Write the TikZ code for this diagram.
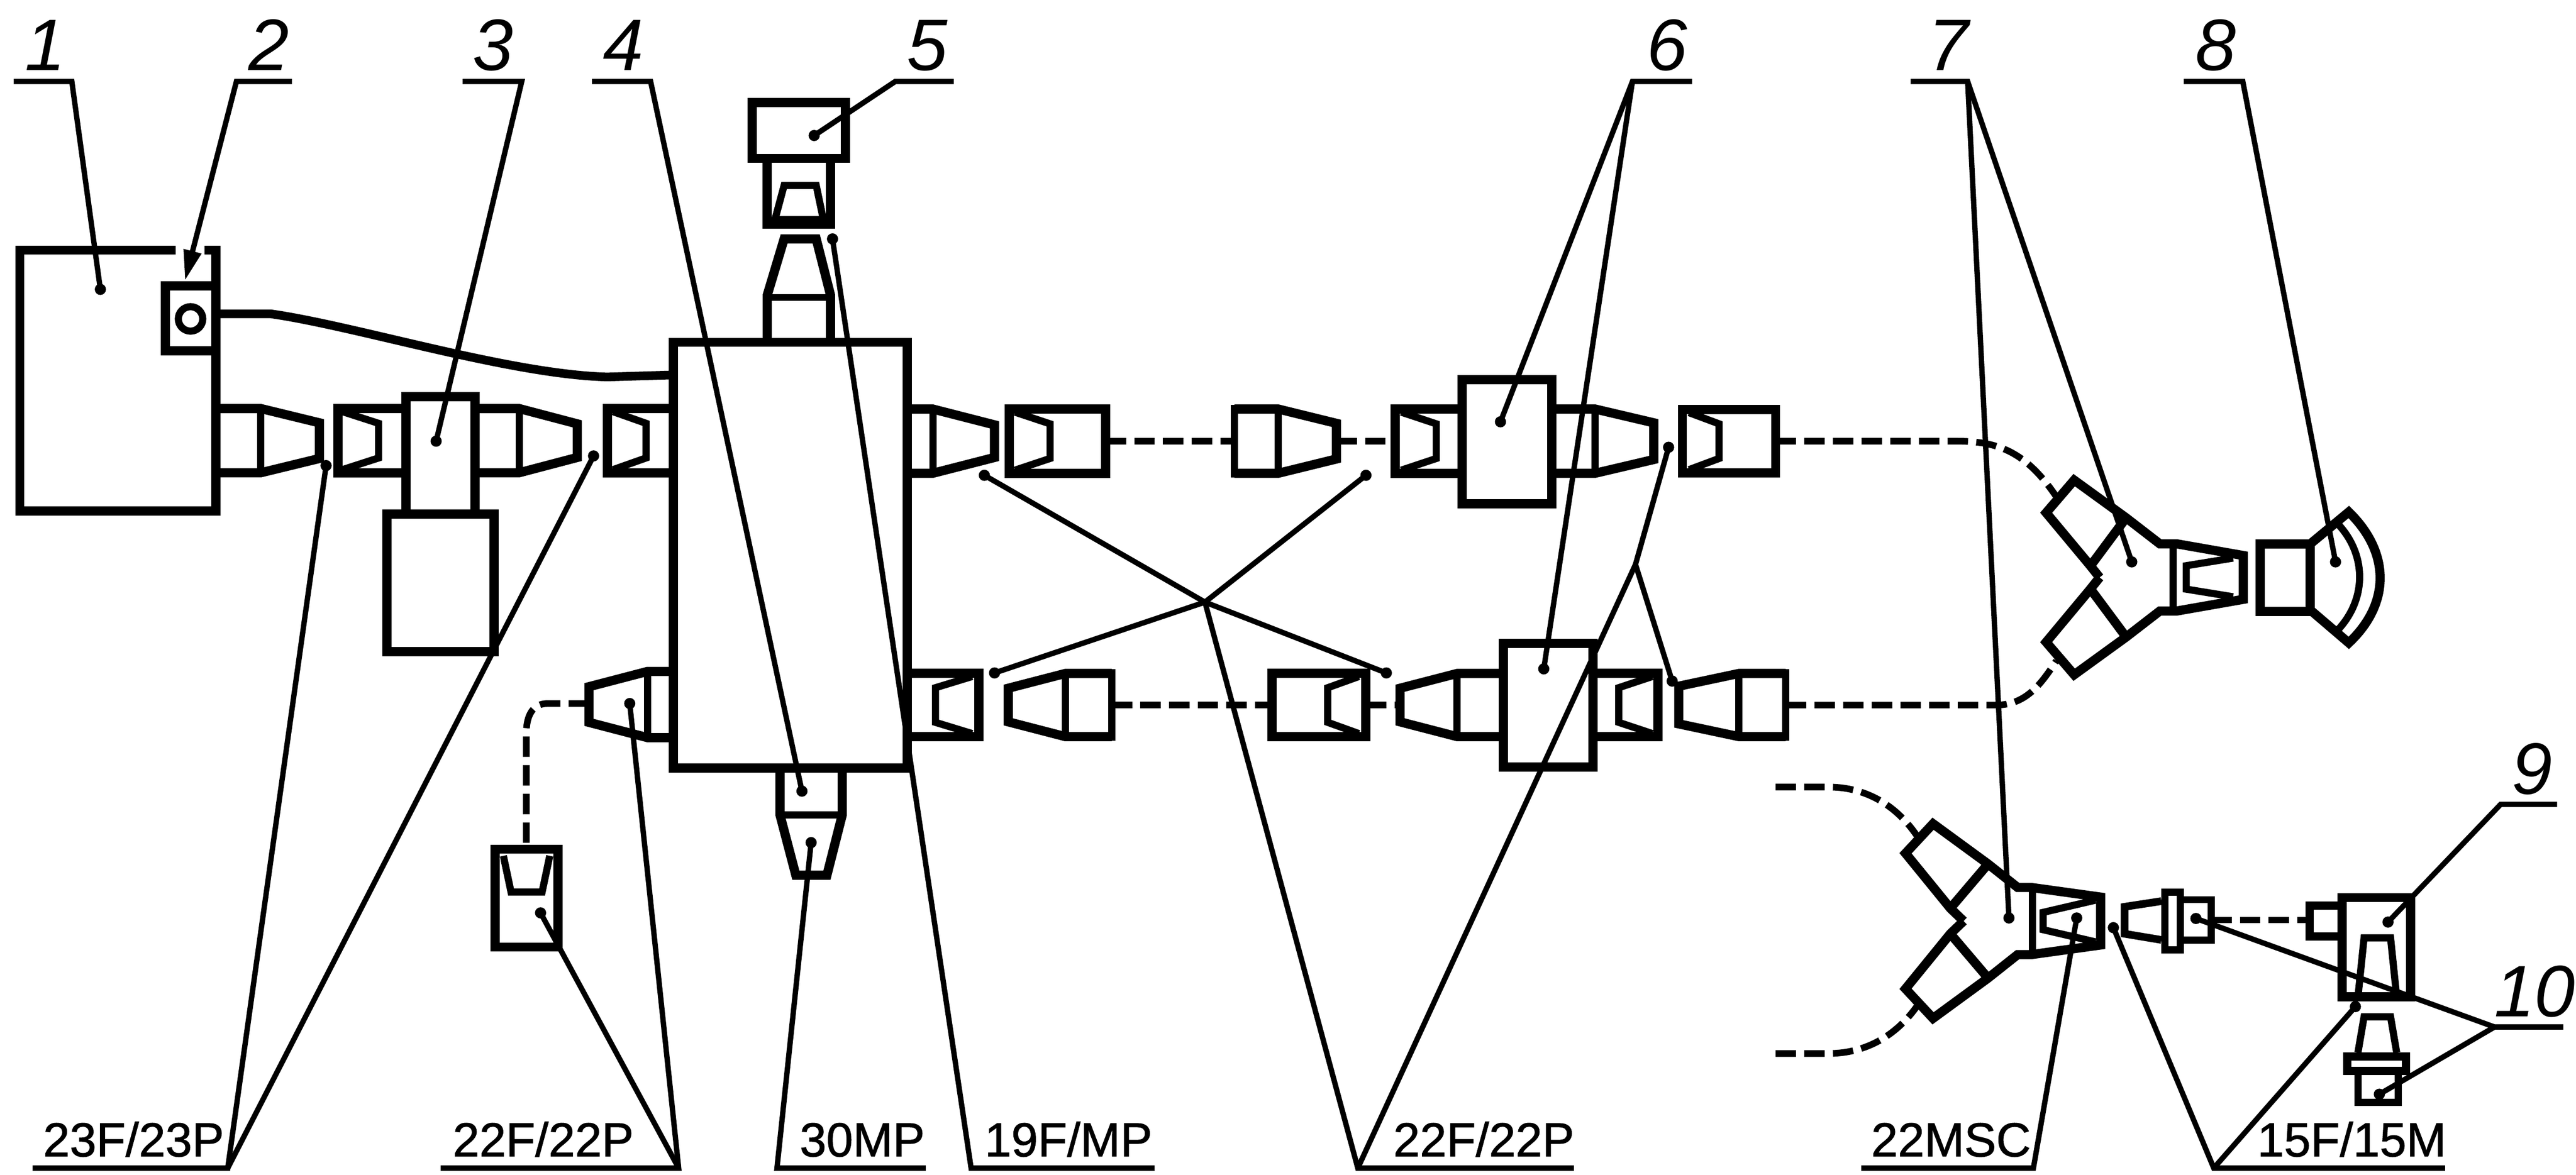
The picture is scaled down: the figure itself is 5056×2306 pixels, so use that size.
\documentclass[tikz,border=0pt]{standalone}
\usepackage{fontspec}
\setmainfont{Liberation Sans}
\newfontfamily\typefont[FakeBold=1.2]{Liberation Sans}
\usetikzlibrary{arrows.meta}
\tikzset{
  part/.style={draw=black,line width=0.18cm,line cap=butt,line join=miter,miter limit=4},
  fine/.style={draw=black,line width=0.14cm,line join=miter},
  leader/.style={draw=black,line width=0.105cm,line join=miter},
  cableb/.style={draw=black,line width=0.13cm,dash pattern=on 11.4pt off 4.6pt},
  numlab/.style={inner sep=0pt,anchor=base,font=\fontsize{40.7}{48}\selectfont\itshape},
  typelab/.style={inner sep=0pt,anchor=base west,font=\typefont\fontsize{26.7}{32}\selectfont}
}
% plug: base x, bend x, end x, centre y, half height, half height of the tip
\newcommand{\plugR}[6]{%
  \draw[part] (#1,{#4-#5}) -- (#2,{#4-#5}) -- (#3,{#4-#6}) -- (#3,{#4+#6}) -- (#2,{#4+#5}) -- (#1,{#4+#5});
  \draw[fine] (#2,{#4-#5}) -- (#2,{#4+#5});}
% free plug: the same, with a closed back
\newcommand{\plugF}[6]{\plugR{#1}{#2}{#3}{#4}{#5}{#6}\draw[fine] (#1,{#4-#5-8}) -- (#1,{#4+#5+8});}
% socket: mouth x, back x, inner mouth x, inner neck x, centre y, half height
\newcommand{\sockR}[6]{%
  \draw[part] (#1,{#5-#6}) rectangle (#2,{#5+#6});
  \draw[fine] (#3,{#5-#6+6}) -- (#4,{#5-34}) -- (#4,{#5+34}) -- (#3,{#5+#6-6});}
\begin{document}
\begin{tikzpicture}[x=0.01cm,y=-0.01cm]
\useasboundingbox[fill=white] (0,0) rectangle (5056,2306);

% item 1 and 2
\draw[part] (345,491) -- (39,491) -- (39,1003) -- (424,1003) -- (424,491) -- (401,491);
\draw[part] (325,561) rectangle (424,689);
\draw[fine] (374,626) circle[radius=24];
\draw[part,line width=0.17cm] (424,616) -- (531,616) .. controls (700,640) and (1000,735) .. (1192,740) -- (1322,736);

% row 1
\plugR{424}{512}{627}{865}{63}{35}
\sockR{663}{797}{672}{743}{865}{63}
\draw[part] (797,1009) -- (797,779) -- (932,779) -- (932,1009);
\draw[part] (759,1009) rectangle (970,1279);
\plugR{932}{1019}{1133}{865}{63}{33}
\sockR{1192}{1322}{1203}{1268}{865}{63}
\draw[part] (1322,672) rectangle (1781,1508);
\plugR{1781}{1831}{1952}{866}{63}{32}
\sockR{1981}{2170}{1992}{2061}{866}{63}
\draw[cableb] (2170,866) -- (2423,866);
\plugF{2423}{2509}{2623}{866}{63}{35}
\draw[cableb] (2623,866) -- (2738,866);
\sockR{2738}{2870}{2750}{2819}{866}{63}
\draw[part] (2870,745) rectangle (3046,989);
\plugR{3046}{3131}{3246}{866}{63}{36}
\sockR{3302}{3485}{3315}{3374}{866}{62}
\draw[cableb] (3485,866) -- (3839,866) .. controls (3920,866) and (3975,885) .. (4036,975);

% row 2
\plugR{1322}{1271}{1156}{1383}{65}{35}
\draw[cableb] (1156,1381) -- (1075,1381) .. controls (1045,1381) and (1033,1405) .. (1033,1440) -- (1033,1667);
\sockR{1921}{1781}{1908}{1836}{1384}{62}
\plugF{2182}{2091}{1979}{1384}{62}{33}
\draw[cableb] (2182,1384) -- (2497,1384);
\sockR{2681}{2497}{2667}{2606}{1384}{62}
\draw[cableb] (2681,1384) -- (2748,1384);
\plugR{2951}{2860}{2748}{1384}{62}{33}
\draw[part] (2951,1263) rectangle (3127,1506);
\sockR{3254}{3127}{3243}{3177}{1384}{62}
\plugF{3505}{3413}{3295}{1384}{62}{37}
\draw[cableb] (3505,1384) -- (3918,1384) .. controls (3975,1384) and (4005,1345) .. (4036,1297);

% devices above and below the main box
\draw[part] (1476,201) rectangle (1659,311);
\draw[part] (1506,311) rectangle (1630,440);
\draw[fine] (1521,431) -- (1539,364) -- (1602,364) -- (1616,431) -- cycle;
\draw[part] (1506,672) -- (1506,579) -- (1539,469) -- (1602,469) -- (1630,579) -- (1630,672);
\draw[fine] (1506,584) -- (1630,584);
\draw[part] (1531,1508) -- (1531,1600) -- (1562,1718) -- (1623,1718) -- (1653,1600) -- (1653,1508);
\draw[fine] (1531,1600) -- (1653,1600);
\draw[part] (972,1667) rectangle (1095,1859);
\draw[fine] (988,1680) -- (1003,1751) -- (1064,1751) -- (1079,1680);

% splitters
\foreach \sgn in {1,-1}{
  \begin{scope}[shift={(0,1133.5)},yscale=\sgn]
    \draw[part] (4121,0) -- (4101,-25) -- (4016,-127) -- (4071,-191) -- (4173,-117) -- (4239,-66) -- (4272,-66) -- (4403,-43) -- (4403,0);
    \draw[part] (4173,-117) -- (4101,-20);
    \draw[fine] (4265,-66) -- (4265,0);
    \draw[fine] (4383,-38) -- (4291,-23) -- (4291,0);
  \end{scope}
  \begin{scope}[shift={(0,1808)},yscale=\sgn]
    \draw[part] (3854,0) -- (3828,-25) -- (3740,-133) -- (3794,-191) -- (3902,-112) -- (3960,-66) -- (3986,-66) -- (4123,-47) -- (4123,0);
    \draw[part] (3902,-112) -- (3828,-25);
    \draw[fine] (3989,-66) -- (3989,0);
    \draw[fine] (4113,-41) -- (4010,-17) -- (4010,0);
  \end{scope}
}
\draw[cableb] (3485,1545) -- (3589,1545) .. controls (3650,1545) and (3715,1570) .. (3764,1643);
\draw[cableb] (3485,2068) -- (3589,2068) .. controls (3650,2068) and (3715,2043) .. (3764,1973);

% item 8
\draw[part] (4436,1068) rectangle (4534,1200);
\draw[part] (4534,1068) -- (4610,1005) .. controls (4692,1085) and (4692,1185) .. (4610,1262) -- (4534,1197);
\draw[fine] (4590,1030) .. controls (4645,1090) and (4645,1175) .. (4590,1235);

% 15F/15M connector and item 9
\draw[part,line width=0.15cm] (4242,1769) -- (4170,1780) -- (4170,1833) -- (4242,1845);
\draw[fine] (4249,1751) rectangle (4279,1865);
\draw[fine] (4279,1766) -- (4340,1766) -- (4340,1845) -- (4279,1845);
\draw[cableb] (4340,1806) -- (4533,1806);
\draw[fine,line width=0.16cm] (4597,1778) -- (4533,1778) -- (4533,1838) -- (4597,1838);
\draw[part] (4597,1762) rectangle (4731,1957);
\draw[fine] (4628,1957) -- (4640,1841) -- (4692,1841) -- (4704,1957);
\draw[fine] (4628,2066) -- (4640,1996) -- (4692,1996) -- (4704,2066);
\draw[fine,line width=0.16cm] (4607,2074) rectangle (4722,2102);
\draw[fine] (4628,2102) -- (4628,2164) -- (4707,2164) -- (4707,2102);

% leader points
\coordinate (e1) at (27,160); \coordinate (t1) at (141,160); \coordinate (d1) at (197,568);
\coordinate (e2) at (573,160); \coordinate (t2) at (464,160); \coordinate (d2) at (363,551);
\coordinate (e3) at (908,160); \coordinate (t3) at (1024,160); \coordinate (d3) at (856,866);
\coordinate (e4) at (1162,160); \coordinate (t4) at (1277,160); \coordinate (d4) at (1574,1553);
\coordinate (e5) at (1872,160); \coordinate (t5) at (1757,160); \coordinate (d5) at (1598,266);
\coordinate (e6) at (3321,160); \coordinate (t6) at (3204,160); \coordinate (d6a) at (2945,828); \coordinate (d6b) at (3030,1313);
\coordinate (e7) at (3750,160); \coordinate (t7) at (3862,160); \coordinate (d7a) at (4184,1103); \coordinate (d7b) at (3943,1802);
\coordinate (e8) at (4286,160); \coordinate (t8) at (4402,160); \coordinate (d8) at (4584,1103);
\coordinate (e9) at (5019,1579); \coordinate (t9) at (4908,1579); \coordinate (d9) at (4687,1810);
\coordinate (e10) at (5031,2016); \coordinate (t10) at (4896,2016); \coordinate (d10a) at (4310,1803); \coordinate (d10b) at (4670,2148);
\coordinate (ea) at (64,2293); \coordinate (ta) at (447,2293); \coordinate (da1) at (640,914); \coordinate (da2) at (1165,895);
\coordinate (eb) at (865,2293); \coordinate (tb) at (1332,2293); \coordinate (db1) at (1236,1381); \coordinate (db2) at (1061,1792);
\coordinate (ec) at (1817,2293); \coordinate (tc) at (1525,2293); \coordinate (dc) at (1592,1654);
\coordinate (ed) at (2266,2293); \coordinate (td) at (1906,2293); \coordinate (dd) at (1634,469);
\coordinate (ee) at (3089,2293); \coordinate (te) at (2665,2293);
\coordinate (je1) at (2365,1182); \coordinate (je2) at (3210,1108);
\coordinate (de1) at (1932,933); \coordinate (de2) at (2681,933); \coordinate (de3) at (1952,1321); \coordinate (de4) at (2721,1321);
\coordinate (de5) at (3275,878); \coordinate (de6) at (3282,1337);
\coordinate (ef) at (3653,2293); \coordinate (tf) at (3991,2293); \coordinate (df) at (4076,1802);
\coordinate (eg) at (4799,2293); \coordinate (tg) at (4345,2293); \coordinate (dg1) at (4148,1821); \coordinate (dg2) at (4623,1976);

% leaders
\draw[leader] (e1) -- (t1) -- (d1);
\draw[leader,-{Triangle[length=17pt,width=9.5pt]}] (e2) -- (t2) -- (d2);
\draw[leader] (e3) -- (t3) -- (d3);
\draw[leader] (e4) -- (t4) -- (d4);
\draw[leader] (e5) -- (t5) -- (d5);
\draw[leader] (e6) -- (t6) -- (d6a); \draw[leader] (t6) -- (d6b);
\draw[leader] (e7) -- (t7) -- (d7a); \draw[leader] (t7) -- (d7b);
\draw[leader] (e8) -- (t8) -- (d8);
\draw[leader] (e9) -- (t9) -- (d9);
\draw[leader] (e10) -- (t10) -- (d10a); \draw[leader] (t10) -- (d10b);
\draw[leader] (ea) -- (ta) -- (da1); \draw[leader] (ta) -- (da2);
\draw[leader] (eb) -- (tb) -- (db1); \draw[leader] (tb) -- (db2);
\draw[leader] (ec) -- (tc) -- (dc);
\draw[leader] (ed) -- (td) -- (dd);
\draw[leader] (ee) -- (te) -- (je1); \draw[leader] (te) -- (je2);
\draw[leader] (de1) -- (je1) -- (de4); \draw[leader] (de2) -- (je1) -- (de3);
\draw[leader] (de5) -- (je2) -- (de6);
\draw[leader] (ef) -- (tf) -- (df);
\draw[leader] (eg) -- (tg) -- (dg1); \draw[leader] (tg) -- (dg2);
\foreach \p in {d1,d3,d4,d5,d6a,d6b,d7a,d7b,d8,d9,d10a,d10b,da1,da2,db1,db2,dc,dd,de1,de2,de3,de4,de5,de6,df,dg1,dg2}
  \fill[black] (\p) circle[radius=11];

% labels
\node[numlab] (n1) at (89,138) {1};
\node[numlab] (n2) at (528,138) {2};
\node[numlab] (n3) at (968,138) {3};
\node[numlab] (n4) at (1223,138) {4};
\node[numlab] (n5) at (1820,138) {5};
\node[numlab] (n6) at (3272,138) {6};
\node[numlab] (n7) at (3824,138) {7};
\node[numlab] (n8) at (4349,138) {8};
\node[numlab] (n9) at (4970,1559) {9};
\node[numlab] (n10) at (4975,1996) {10};
\node[typelab] (la) at (84,2270) {23F/23P};
\node[typelab] (lb) at (888,2270) {22F/22P};
\node[typelab] (lc) at (1569,2270) {30MP};
\node[typelab] (ld) at (1932,2270) {19F/MP};
\node[typelab] (le) at (2734,2270) {22F/22P};
\node[typelab] (lf) at (3672,2270) {22MSC};
\node[typelab] (lg) at (4430,2270) {15F/15M};
\end{tikzpicture}
\end{document}
